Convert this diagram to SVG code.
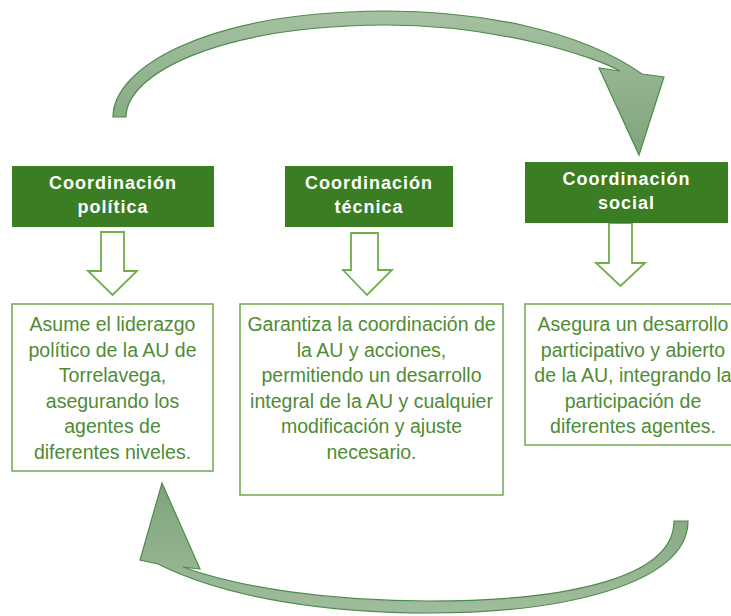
<svg xmlns="http://www.w3.org/2000/svg" width="731" height="616" viewBox="0 0 731 616">
<style>
.hdr{fill:#3B7D23}
.ht{font-family:"Liberation Sans",Arial,sans-serif;font-weight:bold;font-size:18px;fill:#ffffff;text-anchor:middle;letter-spacing:1px}
.box{fill:#ffffff;stroke:#6FA84E;stroke-width:1.5}
.bt{font-family:"Liberation Sans",Arial,sans-serif;font-size:19.5px;fill:#4F8B35;text-anchor:middle}
.down{fill:#ffffff;stroke:#70AD47;stroke-width:1.8;stroke-linejoin:miter}
.curve{stroke:#4E8A4B;stroke-width:1.2;stroke-linejoin:miter}
</style>
<defs>
<linearGradient id="gTop" x1="0" y1="0" x2="0" y2="1">
<stop offset="0" stop-color="#A5C1A2"/>
<stop offset="1" stop-color="#7FA37B"/>
</linearGradient>
<linearGradient id="gBot" x1="0" y1="0" x2="0" y2="1">
<stop offset="0" stop-color="#7FA37B"/>
<stop offset="1" stop-color="#A0BD9D"/>
</linearGradient>
</defs>
<rect width="731" height="616" fill="#ffffff"/>
<g id="connectors">
<path id="arc-top" class="curve" fill="url(#gTop)" d="M113,117 C113,70 200,12 385,11 C480,11 580,30 642,74 L664,77 L639,155 L599,68 L620,71 C595,57 500,25 385,25 C215,26 126,75 126,117 Z"/>
<path id="arc-bottom" class="curve" fill="url(#gBot)" d="M688,521 C688,585 560,613 430,613 C330,613 228,599 158,564 L140,560 L162,483 L200,569 L183,567 C240,588 330,601 430,601 C560,601 674,580 674,521 Z"/>
<polygon id="arrow-politica" class="down" points="101,232 124,232 124,271 137,271 112.5,295 88,271 101,271"/>
<polygon id="arrow-tecnica" class="down" points="351,233 378,233 378,270 392,270 367,295 343,270 351,270"/>
<polygon id="arrow-social" class="down" points="609,223 632,223 632,263 645,263 620.5,286 596,263 609,263"/>
</g>
<g id="node-politica">
<rect class="hdr" x="12" y="166" width="202" height="61"/>
<text class="ht" x="113" y="189">Coordinación</text>
<text class="ht" x="113" y="213">política</text>
</g>
<g id="node-tecnica">
<rect class="hdr" x="285" y="166" width="168" height="61"/>
<text class="ht" x="369" y="189">Coordinación</text>
<text class="ht" x="369" y="213">técnica</text>
</g>
<g id="node-social">
<rect class="hdr" x="525" y="162" width="203" height="61"/>
<text class="ht" x="626.5" y="185">Coordinación</text>
<text class="ht" x="626.5" y="209">social</text>
</g>
<g id="desc-politica">
<rect class="box" x="12" y="304" width="201" height="167"/>
<text class="bt" x="112.5" y="331">Asume el liderazgo</text>
<text class="bt" x="112.5" y="356.5">político de la AU de</text>
<text class="bt" x="112.5" y="382">Torrelavega,</text>
<text class="bt" x="112.5" y="407.5">asegurando los</text>
<text class="bt" x="112.5" y="433">agentes de</text>
<text class="bt" x="112.5" y="458.5">diferentes niveles.</text>
</g>
<g id="desc-tecnica">
<rect class="box" x="240" y="304" width="263" height="191"/>
<text class="bt" x="371.5" y="331">Garantiza la coordinación de</text>
<text class="bt" x="371.5" y="356.5">la AU y acciones,</text>
<text class="bt" x="371.5" y="382">permitiendo un desarrollo</text>
<text class="bt" x="371.5" y="407.5">integral de la AU y cualquier</text>
<text class="bt" x="371.5" y="433">modificación y ajuste</text>
<text class="bt" x="371.5" y="458.5">necesario.</text>
</g>
<g id="desc-social">
<rect class="box" x="525" y="304" width="220" height="141"/>
<text class="bt" x="633" y="331">Asegura un desarrollo</text>
<text class="bt" x="633" y="356.5">participativo y abierto</text>
<text class="bt" x="633" y="382">de la AU, integrando la</text>
<text class="bt" x="633" y="407.5">participación de</text>
<text class="bt" x="633" y="433">diferentes agentes.</text>
</g>
</svg>
